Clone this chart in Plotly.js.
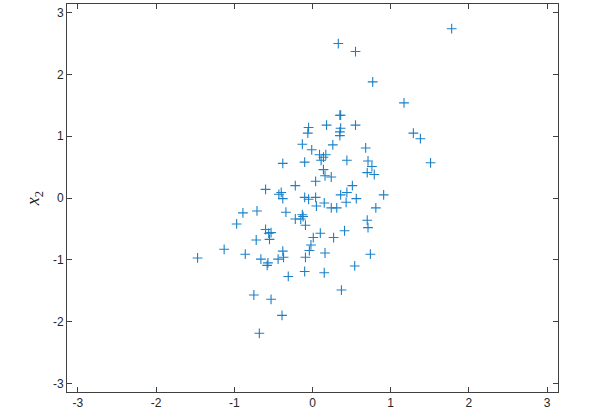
<!DOCTYPE html>
<html>
<head>
<meta charset="utf-8">
<script src="https://cdn.plot.ly/plotly-3.0.1.min.js"></script>
<style>
  html, body { margin: 0; padding: 0; background: #fff; }
  #chart { width: 598px; height: 412px; }
</style>
</head>
<body>
<div id="chart"></div>
<script>
// sample points (x1, x2)
const x1 = [
  1.78, 0.33, 0.55, 0.77, 1.17, 0.35, 0.36, -0.05, -0.06, 0.18,
  0.36, 0.35, 0.35, 0.55, 1.29, 1.38, 1.51, -0.13, -0.01, 0.26,
  0.68, 0.09, 0.17, 0.14, 0.11, -0.10, 0.44, 0.71, 0.76, 0.70,
  0.79, 0.14, 0.16, 0.24, 0.04, -0.22, 0.51, -0.10, -0.05, 0.04,
  0.36, 0.44, 0.91, 0.56, 0.43, 0.15, 0.05, 0.24, 0.31, 0.81,
  -0.38, -0.60, -0.43, -0.40, -0.38, -0.89, -0.71, -0.34, -0.22, -0.15,
  -0.13, -0.12, -0.09, -0.97, -0.60, -0.56, -0.53, -0.55, -0.72, -1.13,
  -0.86, -0.66, -0.44, -0.38, -0.37, -0.57, -0.58, -1.47, -0.31, -0.75,
  -0.53, -0.39, -0.68, 0.01, -0.02, -0.04, -0.09, -0.10, 0.70, 0.71,
  0.41, 0.10, 0.27, 0.16, 0.74, 0.54, 0.15, 0.37
];
const x2 = [
  2.74, 2.50, 2.37, 1.88, 1.54, 1.34, 1.34, 1.14, 1.05, 1.18,
  1.13, 1.07, 1.01, 1.18, 1.05, 0.96, 0.57, 0.87, 0.78, 0.86,
  0.81, 0.70, 0.70, 0.66, 0.61, 0.58, 0.61, 0.60, 0.51, 0.41,
  0.38, 0.46, 0.36, 0.34, 0.27, 0.20, 0.20, 0.01, -0.02, 0.01,
  0.05, 0.09, 0.05, -0.01, -0.07, -0.08, -0.13, -0.16, -0.16, -0.16,
  0.56, 0.14, 0.06, 0.09, -0.01, -0.24, -0.21, -0.23, -0.34, -0.34,
  -0.27, -0.30, -0.44, -0.42, -0.51, -0.57, -0.56, -0.67, -0.68, -0.83,
  -0.91, -0.99, -0.99, -0.86, -0.96, -1.05, -1.09, -0.97, -1.27, -1.57,
  -1.64, -1.90, -2.19, -0.64, -0.76, -0.85, -0.96, -1.19, -0.36, -0.48,
  -0.53, -0.57, -0.64, -0.89, -0.91, -1.10, -1.21, -1.49
];

const tickVals = [-3, -2, -1, 0, 1, 2, 3];
const tickText = ["-3", "-2", "-1", "0", "1", "2", "3"];

const axisColor = "#404040";
const tickFont = { family: "Liberation Sans, Arial, sans-serif", size: 12, color: "#262626" };

function baseAxis() {
  return {
    range: [-3.14, 3.14],
    tickvals: tickVals,
    ticktext: tickText,
    ticks: "inside",
    ticklen: 5,
    tickwidth: 1,
    tickcolor: axisColor,
    showline: true,
    linecolor: axisColor,
    linewidth: 1,
    mirror: "ticks",
    showgrid: false,
    zeroline: false,
    tickfont: tickFont,
    automargin: false
  };
}

const trace = {
  x: x1,
  y: x2,
  type: "scatter",
  mode: "markers",
  marker: {
    symbol: "cross-thin-open",
    size: 7,
    opacity: 1,
    color: "#1a80c8",
    line: { color: "#1a80c8", width: 1.1 }
  },
  hoverinfo: "x+y"
};

const layout = {
  width: 598,
  height: 412,
  showlegend: false,
  paper_bgcolor: "#fff",
  plot_bgcolor: "#fff",
  margin: { l: 67, r: 40, t: 4, b: 20 },
  xaxis: baseAxis(),
  yaxis: {
    ...baseAxis(),
    title: {
      text: "<i>x</i><sub>2</sub>",
      font: { family: "Liberation Serif, serif", size: 18, color: "#262626" },
      standoff: 8
    }
  }
};

Plotly.newPlot("chart", [trace], layout, { displayModeBar: false, staticPlot: true });
</script>
</body>
</html>
